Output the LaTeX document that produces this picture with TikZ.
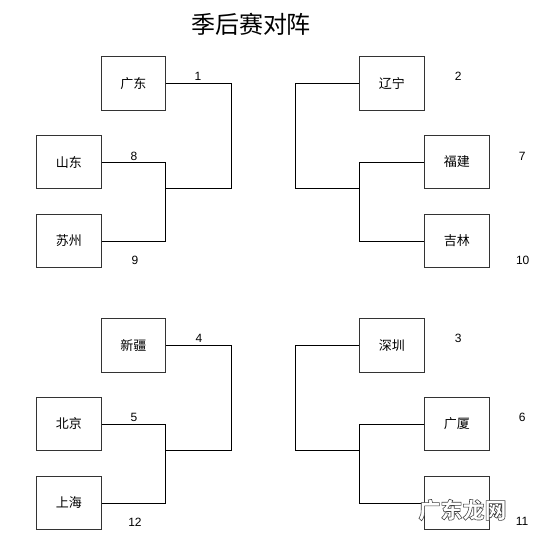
\documentclass[tikz,border=0pt]{standalone}
\usepackage{fontspec}
\setmainfont{Liberation Sans}
\newfontfamily\cjk{Noto Sans CJK SC}
\newfontfamily\cjkwm[FakeBold=2.5]{Noto Sans CJK SC Black}
\begin{document}
\begin{tikzpicture}[x=1pt,y=-1pt,
  team/.style={draw=black!80,line width=0.9pt,minimum width=64.7pt,minimum height=53.3pt,inner sep=0pt,font=\cjk\fontsize{13}{13}\selectfont},
  wire/.style={draw=black,line width=0.9pt},
  seed/.style={font=\fontsize{12}{12}\selectfont,inner sep=0pt},
  wm/.style={font=\cjkwm\fontsize{22}{22}\selectfont,inner sep=0pt}]
\useasboundingbox[fill=white] (0,0) rectangle (550,538);
\node[font=\cjk\fontsize{24}{24}\selectfont] (title) at (251,24) {季后赛对阵};
% top-left
\node[team] (gd) at (133.3,83.3) {广东};
\node[team] (sd) at (68.8,162) {山东};
\node[team] (sz) at (68.8,241) {苏州};
\coordinate (r1) at (231,188.3);
\coordinate (j1) at (165.7,188.3);
\draw[wire] (gd.east) -| (r1) -- (j1);
\draw[wire] (sd.east) -| (j1) |- (sz.east);
\node[seed] (s1) at (198,76) {1};
\node[seed] (s8) at (134,156) {8};
\node[seed] (s9) at (135,260) {9};
% top-right
\node[team] (ln) at (391.8,83.3) {辽宁};
\node[team] (fj) at (456.8,162) {福建};
\node[team] (jl) at (456.8,241) {吉林};
\coordinate (r2) at (295.7,188.3);
\coordinate (j2) at (359.3,188.3);
\draw[wire] (ln.west) -| (r2) -- (j2);
\draw[wire] (fj.west) -| (j2) |- (jl.west);
\node[seed] (s2) at (458.3,76.5) {2};
\node[seed] (s7) at (522.3,156) {7};
\node[seed] (s10) at (522.7,260) {10};
% bottom-left
\node[team] (xj) at (133.3,345.5) {新疆};
\node[team] (bj) at (68.8,424) {北京};
\node[team] (sh) at (68.8,503) {上海};
\coordinate (r3) at (231,450.3);
\coordinate (j3) at (165.7,450.3);
\draw[wire] (xj.east) -| (r3) -- (j3);
\draw[wire] (bj.east) -| (j3) |- (sh.east);
\node[seed] (s4) at (199,338.5) {4};
\node[seed] (s5) at (134,417.5) {5};
\node[seed] (s12) at (135,522) {12};
% bottom-right
\node[team] (szh) at (391.8,345.5) {深圳};
\node[team] (gx) at (456.8,424) {广厦};
\node[team] (zj) at (456.8,503) {};
\coordinate (r4) at (295.7,450.3);
\coordinate (j4) at (359.3,450.3);
\draw[wire] (szh.west) -| (r4) -- (j4);
\draw[wire] (gx.west) -| (j4) |- (zj.west);
\node[seed] (s3) at (458.3,338.5) {3};
\node[seed] (s6) at (522.3,417.5) {6};
\node[seed] (s11) at (522,521) {11};
% watermark
\node[wm] (wmark) at (462.5,510) {\special{pdf:bcolor [1] [0.25]}广东龙网\special{pdf:ecolor}};
\end{tikzpicture}
\end{document}
